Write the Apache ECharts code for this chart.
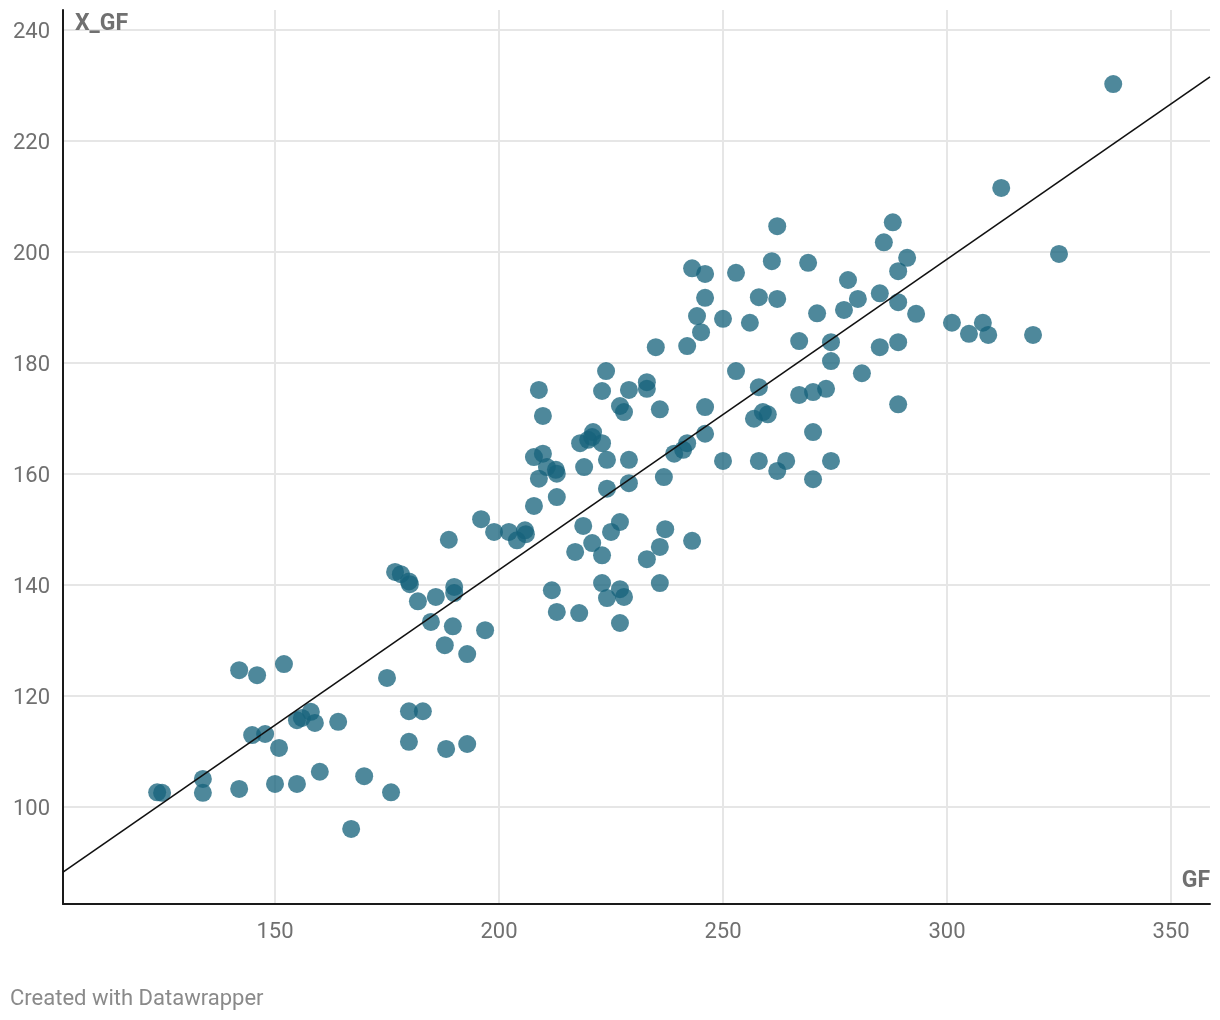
<!DOCTYPE html>
<html>
<head>
<meta charset="utf-8">
<script src="https://cdn.jsdelivr.net/npm/echarts@6/dist/echarts.min.js"></script>
<style>
html,body{margin:0;padding:0;background:#fff;}
#chart{width:1220px;height:1020px;}
</style>
</head>
<body>
<div id="chart"></div>
<script>
// GF values (x)
const gf = [123.7,124.8,133.9,133.9,142.0,146.0,152.0,142.0,144.9,147.8,150.9,150.0,154.9,156.0,158.0,158.9,154.9,160.0,164.1,167.0,
169.9,175.0,175.9,176.8,178.1,179.9,180.1,181.9,179.9,183.0,179.9,184.8,185.9,187.9,188.8,189.7,190.0,190.0,188.2,192.9,
192.9,196.9,196.0,198.9,202.2,204.0,205.8,206.0,207.8,207.8,208.9,208.9,209.8,209.8,210.7,212.7,212.9,212.9,211.8,212.9,
217.0,217.9,218.1,218.8,219.0,219.9,221.0,220.8,220.8,223.0,223.0,223.0,223.0,223.9,224.1,224.1,224.1,225.0,227.0,227.0,
227.0,227.0,227.9,227.9,229.0,229.0,229.0,233.0,233.0,233.0,235.0,235.9,235.9,235.9,236.8,237.1,239.1,241.1,242.0,242.0,
243.1,243.1,244.2,245.1,246.0,246.0,246.0,246.0,250.0,250.0,252.9,252.9,256.0,256.9,258.0,258.0,258.0,258.9,260.0,260.9,
262.1,262.1,262.1,264.1,267.0,267.0,269.0,270.1,270.1,270.1,271.0,273.0,274.1,274.1,274.1,277.0,277.9,280.1,281.0,285.0,
285.0,285.9,287.9,289.1,289.1,289.1,289.1,291.1,293.1,301.1,304.9,308.0,309.2,312.1,319.2,325.0,337.1];
// X_GF values (y)
const xgf = [102.6,102.5,105.0,102.5,124.6,123.7,125.7,103.2,112.9,113.1,110.6,104.1,115.6,116.0,117.1,115.1,104.1,106.3,115.3,96.0,
105.5,123.2,102.6,142.3,141.9,140.6,140.1,137.0,117.2,117.2,111.7,133.3,137.8,129.1,148.1,132.5,139.6,138.5,110.4,127.5,
111.3,131.8,151.8,149.5,149.5,148.0,149.8,149.1,154.2,163.0,159.1,175.1,170.4,163.6,161.2,160.7,160.0,155.8,139.0,135.1,
145.9,134.9,165.5,150.6,161.2,166.1,167.5,166.6,147.5,174.9,165.5,145.3,140.3,178.5,162.5,157.3,137.6,149.5,139.2,133.1,
151.3,172.2,171.1,137.8,175.1,162.5,158.3,144.6,176.5,175.3,182.8,171.6,146.8,140.3,159.4,150.0,163.6,164.3,165.5,183.0,
197.0,147.9,188.4,185.5,196.0,191.7,172.0,167.2,187.9,162.3,196.2,178.5,187.2,169.9,191.8,175.6,162.3,171.1,170.7,198.3,
204.6,191.5,160.5,162.3,183.9,174.2,198.0,174.7,167.5,159.0,188.9,175.3,183.7,180.3,162.3,189.5,194.9,191.5,178.1,192.5,
182.8,201.7,205.3,196.5,190.9,183.7,172.5,198.9,188.8,187.2,185.2,187.2,185.0,211.5,185.0,199.6,230.2];
// regression (trend) line end points
const trendX = [102.68, 358.7];
const trendY = [88.2, 231.5];
// tick labels
const xTicks = [150, 200, 250, 300, 350];
const yTicks = [100, 120, 140, 160, 180, 200, 220, 240];
const xRange = [102.68, 358.7];
const yRange = [82.47, 243.55];

const points = gf.map((v, i) => [v, xgf[i]]);
const trend = trendX.map((v, i) => [v, trendY[i]]);

const chart = echarts.init(document.getElementById('chart'), null, {renderer: 'canvas'});
const FONT = 'Roboto, "Noto Sans", sans-serif';
chart.setOption({
  animation: false,
  backgroundColor: '#ffffff',
  grid: {left: 63, right: 10, top: 10, bottom: 116, containLabel: false},
  xAxis: {
    type: 'value', min: xRange[0], max: xRange[1],
    axisLine: {show: true, onZero: false, lineStyle: {color: '#1a1a1a', width: 2}},
    axisTick: {show: false, customValues: xTicks},
    axisLabel: {customValues: xTicks, color: '#707070', fontSize: 22, fontFamily: FONT, margin: 17},
    splitLine: {show: true, lineStyle: {color: '#e6e6e6', width: 2}}
  },
  yAxis: {
    type: 'value', min: yRange[0], max: yRange[1],
    axisLine: {show: true, onZero: false, lineStyle: {color: '#1a1a1a', width: 2}},
    axisTick: {show: false, customValues: yTicks},
    axisLabel: {
      customValues: yTicks, margin: 13,
      formatter: v => '{a|' + v + '}',
      rich: {a: {color: '#707070', fontSize: 22, fontFamily: FONT, padding: [6, 0, 0, 0]}}
    },
    splitLine: {show: true, lineStyle: {color: '#e6e6e6', width: 2}}
  },
  series: [
    {
      type: 'scatter', data: points, symbolSize: 18, z: 2,
      itemStyle: {color: '#16637c', opacity: 0.76},
      emphasis: {disabled: true}
    },
    {
      type: 'line', data: trend, showSymbol: false, symbol: 'none', z: 3,
      lineStyle: {color: '#111111', width: 1.6},
      emphasis: {disabled: true}
    }
  ],
  graphic: [
    {type: 'text', left: 75, top: 13, style: {text: 'X_GF', font: 'bold 23px ' + FONT, fill: '#707070'}, z: 10},
    {type: 'text', right: 10, top: 870, style: {text: 'GF', font: 'bold 23px ' + FONT, fill: '#707070', textAlign: 'right'}, z: 10},
    {type: 'text', left: 10, top: 988, style: {text: 'Created with Datawrapper', font: '22px ' + FONT, fill: '#8a8a8a'}, z: 10}
  ]
});
</script>
</body>
</html>
